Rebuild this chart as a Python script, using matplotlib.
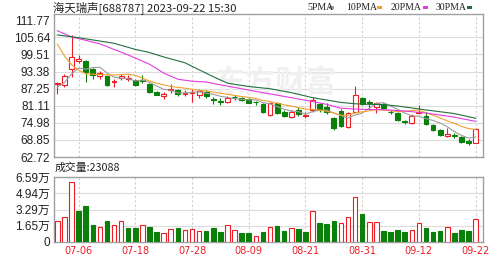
import numpy as np
import matplotlib
matplotlib.use('Agg')
import matplotlib.pyplot as plt
from matplotlib.patches import Rectangle

# daily k-line, 2023-07-03 .. 2023-09-22 (60 trading days)
opens = [88.9, 88.4, 94.4, 97.3, 97.1, 94.3, 91.6, 91.8, 89.5, 91.1,
         90.8, 90.3, 90.5, 88.8, 86.0, 84.7, 86.8, 86.6, 85.3, 85.6,
         85.0, 86.2, 83.6, 82.8, 82.4, 84.4, 83.7, 83.4, 82.6, 81.7,
         77.8, 82.0, 79.0, 77.2, 79.6, 77.6, 79.4, 81.8, 80.8, 76.6,
         79.3, 73.4, 79.0, 83.8, 82.3, 80.6, 81.8, 79.0, 78.5, 75.6,
         74.8, 78.6, 77.6, 74.2, 72.4, 70.1, 70.5, 69.8, 68.3, 67.9]
highs = [89.6, 92.5, 106.3, 99.4, 97.6, 94.8, 93.4, 92.2, 90.6, 92.4,
         92.1, 90.7, 92.2, 89.2, 86.4, 86.2, 88.9, 87.0, 86.8, 87.1,
         87.0, 86.8, 84.4, 83.8, 84.6, 84.9, 84.3, 83.7, 82.9, 82.0,
         82.5, 82.6, 79.4, 79.5, 80.6, 79.0, 84.2, 82.2, 82.0, 77.0,
         79.8, 78.8, 88.2, 84.3, 83.0, 82.6, 82.2, 79.4, 78.8, 76.0,
         78.0, 81.2, 79.0, 74.6, 72.7, 73.0, 71.4, 70.2, 69.0, 73.0]
lows = [85.4, 87.9, 91.4, 96.4, 89.6, 90.6, 90.6, 88.2, 87.8, 90.4,
        89.8, 88.3, 89.2, 85.6, 84.8, 83.6, 85.5, 84.6, 84.5, 82.6,
        83.8, 84.0, 81.8, 81.4, 82.0, 83.2, 82.7, 82.0, 81.4, 78.4,
        77.5, 78.0, 76.9, 76.6, 77.4, 76.8, 79.0, 79.0, 78.3, 72.4,
        73.3, 73.0, 78.7, 81.5, 80.2, 78.6, 79.8, 78.2, 75.8, 74.6,
        74.6, 78.0, 74.3, 72.1, 70.4, 69.8, 69.6, 67.8, 67.2, 67.6]
closes = [89.3, 91.9, 98.6, 97.9, 93.2, 92.2, 92.7, 88.6, 89.9, 91.6,
          91.2, 88.7, 90.0, 86.0, 85.0, 85.2, 87.2, 85.2, 85.7, 86.2,
          86.4, 84.6, 83.0, 82.4, 84.0, 84.1, 83.3, 82.2, 82.3, 79.0,
          82.2, 78.5, 77.3, 78.8, 78.0, 77.9, 83.2, 79.5, 78.7, 73.1,
          73.7, 78.4, 85.0, 81.8, 82.0, 82.2, 80.2, 78.7, 76.1, 75.3,
          77.4, 79.0, 74.7, 72.5, 70.7, 70.9, 70.2, 68.0, 67.9, 72.7]
# volume in 万 (10k) shares
volumes = [2.09, 2.57, 6.11, 3.18, 3.61, 1.69, 1.55, 2.16, 1.76, 2.16,
           1.42, 1.42, 1.76, 1.49, 1.01, 0.91, 1.35, 1.39, 1.22, 1.35,
           1.11, 1.11, 1.39, 1.01, 1.69, 1.18, 0.95, 0.95, 0.64, 1.01,
           1.55, 1.59, 1.11, 1.45, 1.32, 1.01, 3.18, 1.89, 1.79, 2.09,
           1.96, 2.57, 4.59, 2.87, 2.00, 2.06, 1.11, 1.01, 1.18, 1.01,
           1.25, 1.96, 1.42, 1.05, 1.11, 1.55, 0.95, 1.22, 1.15, 2.3088]

ma5 = [87.8, 89.4, 92.5, 94.6, 94.2, 94.8, 94.9, 92.9, 91.3, 91.0,
       90.8, 90.0, 90.3, 89.5, 88.2, 87.0, 86.7, 85.7, 85.7, 85.9,
       86.1, 85.6, 85.2, 84.5, 84.1, 83.6, 83.4, 83.2, 83.2, 82.2,
       81.8, 80.8, 79.9, 79.2, 79.0, 78.1, 79.0, 79.5, 79.5, 78.5,
       77.6, 76.7, 77.8, 78.4, 80.2, 81.9, 82.2, 81.0, 79.8, 78.5,
       77.5, 77.3, 76.5, 75.8, 74.9, 73.6, 71.8, 70.5, 69.5, 69.9]
ma10 = [103.2, 99.0, 95.8, 93.9, 92.6, 92.4, 92.3, 92.2, 92.1, 92.3,
        92.4, 92.0, 91.0, 90.0, 89.2, 88.6, 88.0, 87.7, 87.4, 87.0,
        86.6, 86.4, 86.0, 85.6, 85.2, 84.8, 84.4, 84.1, 83.7, 83.0,
        82.6, 82.0, 81.4, 81.0, 80.4, 79.9, 79.8, 79.5, 79.1, 78.5,
        77.7, 77.7, 78.5, 78.9, 79.3, 79.7, 79.5, 79.3, 79.0, 79.1,
        79.4, 79.5, 78.6, 77.7, 76.7, 75.7, 74.8, 73.7, 72.9, 72.6]
ma20_idx = [0, 2, 6, 10, 13, 15, 17, 19, 21, 23, 26, 29, 33, 36, 38, 40, 43, 46, 49, 52, 56, 59]
ma20_val = [108.0, 105.8, 103.3, 99.3, 96.0, 92.8, 90.6, 89.9, 89.6, 88.6, 87.2,
            85.8, 84.0, 82.6, 81.6, 80.2, 79.8, 79.7, 79.2, 78.5, 77.0, 75.5]
ma30_idx = [0, 3, 8, 11, 13, 15, 18, 20, 22, 24, 27, 30, 33, 36, 40, 42, 44, 46, 48, 52, 56, 59]
ma30_val = [106.5, 105.5, 103.5, 101.3, 100.2, 98.6, 96.5, 94.0, 91.5, 89.2, 88.0,
            87.2, 85.8, 84.0, 82.3, 81.8, 81.6, 81.5, 81.0, 79.6, 78.3, 76.6]

price_ticks = [62.72, 68.85, 74.98, 81.11, 87.25, 93.38, 99.51, 105.64, 111.77]
vol_ticks = [0, 1.65, 3.29, 4.94, 6.59]
vol_labels = ['0', '1.65万', '3.29万', '4.94万', '6.59万']
date_idx = [3, 11, 19, 27, 35, 43, 51, 59]
date_labels = ['07-06', '07-18', '07-28', '08-09', '08-21', '08-31', '09-12', '09-22']

RED = '#ee1c25'
GREEN = '#0a7f0a'
FRAME = '#a0a0a0'
cjk = ['Noto Sans CJK SC', 'DejaVu Sans']

W, H = 503, 262
fig = plt.figure(figsize=(W / 100, H / 100), dpi=100)
L, R = 53.5, 483
ax = fig.add_axes([L / W, 1 - 157 / H, (R - L) / W, (157 - 14) / H])
axv = fig.add_axes([L / W, 1 - 242 / H, (R - L) / W, (242 - 177) / H])

x = np.arange(len(closes))
o = np.array(opens); c = np.array(closes)
hi = np.array(highs); lo = np.array(lows)
up = c > o
cols = [RED if u else GREEN for u in up]
faces = ['white' if u else GREEN for u in up]

for a in (ax, axv):
    a.set_xlim(-0.54, 60.04)
    for s in a.spines.values():
        s.set_color(FRAME)
        s.set_linewidth(1)
    for d in date_idx:
        a.axvline(d, color='#cfcfcf', lw=0.8, ls=(0, (2, 2)), zorder=0)

ax.set_ylim(62.72, 114.0)
for p in price_ticks[1:-1]:
    ax.axhline(p, color='#dcdcdc', lw=0.8, zorder=0)
ax.text(0.516, 0.52, '东方财富', transform=ax.transAxes, ha='center', va='center',
        fontsize=22, color='#f0f0f0', fontweight='bold', family=cjk, zorder=0)

ax.vlines(x, lo, hi, colors=cols, lw=0.8, zorder=2)
body = np.maximum(np.abs(c - o), 0.25)
ax.bar(x, body, width=0.68, bottom=np.minimum(o, c), color=faces,
       edgecolor=cols, lw=0.8, zorder=3)

ax.plot(x, ma5, color='#9c9c9c', lw=0.8, zorder=4)
ax.plot(x, ma10, color='#f0a22a', lw=0.8, zorder=4)
ax.plot(ma20_idx, ma20_val, color='#e23ce2', lw=0.8, zorder=4)
ax.plot(ma30_idx, ma30_val, color='#23703f', lw=0.8, zorder=4)

ax.set_yticks(price_ticks)
ax.set_yticklabels(['%.2f' % p for p in price_ticks])
ax.set_xticks([])
ax.tick_params(axis='y', length=0, pad=2.5, labelsize=8.5, labelcolor='#222222')
for lbl in ax.get_yticklabels():
    lbl.set_family('Liberation Sans')

# volume panel, bar colour follows change vs previous close
vup = np.concatenate([[True], c[1:] >= c[:-1]])
vcols = [RED if u else GREEN for u in vup]
vfaces = ['white' if u else GREEN for u in vup]
axv.set_ylim(0, 6.59)
for v in vol_ticks[1:-1]:
    axv.axhline(v, color='#dcdcdc', lw=0.8, zorder=0)
axv.bar(x, volumes, width=0.64, color=vfaces, edgecolor=vcols, lw=0.8, zorder=3)
axv.set_yticks(vol_ticks)
axv.set_yticklabels(vol_labels)
axv.set_xticks(date_idx)
axv.set_xticklabels(date_labels)
axv.tick_params(axis='y', length=0, pad=2.5, labelsize=8.5, labelcolor='#222222')
axv.tick_params(axis='x', length=0, pad=3, labelsize=7, labelcolor=RED)
for lbl in axv.get_yticklabels():
    lbl.set_family(['Liberation Sans', 'Noto Sans CJK SC'])

fig.text(53 / W, 1 - 7.5 / H, '海天瑞声[688787] 2023-09-22 15:30', va='center',
         fontsize=8.2, family=cjk, color='#222222')
fig.text(55 / W, 1 - 167.5 / H, '成交量:23088', va='center', fontsize=7.8,
         family=cjk, color='#222222')

legend = [('5PMA', 307, 329, '#9c9c9c'), ('10PMA', 346, 377, '#f0a22a'),
          ('20PMA', 391, 423, '#e23ce2'), ('30PMA', 436, 467, '#23703f')]
for name, tx, dx, col in legend:
    fig.text(tx / W, 1 - 7.5 / H, name, va='center', fontsize=7,
             family='Liberation Serif', color='#222222')
    fig.add_artist(Rectangle((dx / W, 1 - 9 / H), 4.5 / W, 3 / H,
                             transform=fig.transFigure, color=col, lw=0))

fig.savefig('out.png', dpi=100)
